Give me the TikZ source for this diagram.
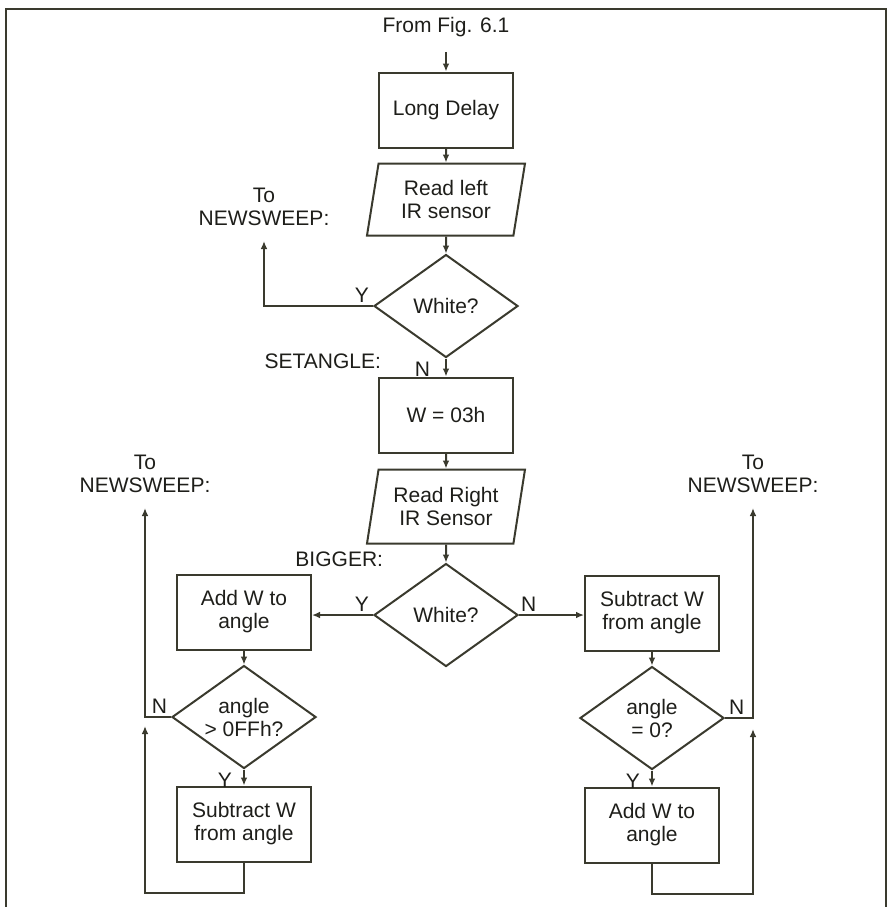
\documentclass[tikz,border=0pt]{standalone}
\usepackage{fontspec}
\setmainfont{Liberation Sans}
\usetikzlibrary{arrows.meta,positioning,shapes.geometric,calc}
\definecolor{inkDark}{HTML}{1E1E1A}
\definecolor{lineOlive}{HTML}{3A3A2E}

\begin{document}
\begin{tikzpicture}[
  x=0.5pt, y=-0.5pt,
  font=\fontsize{10.5}{11.5}\selectfont,
  >={Latex[length=4pt,width=3.4pt]},
  line width=1pt,
  every node/.style={inner sep=2pt, text=inkDark},
  % --- Reusable styles -------------------------------------------------------
  procbox/.style={               % plain process box
    rectangle, draw=lineOlive,
    minimum width=67pt, minimum height=37.5pt, align=center,
  },
  inout/.style={                 % slanted input box
    trapezium, trapezium left angle=76, trapezium right angle=104,
    trapezium stretches body, draw=lineOlive,
    minimum width=79pt, minimum height=36pt, align=center,
  },
  decision/.style={              % branching diamond
    diamond, aspect=1.43, draw=lineOlive,
    minimum width=72pt, minimum height=51.5pt, align=center, inner sep=0pt,
  },
  flow/.style={->, draw=lineOlive},
  wire/.style={draw=lineOlive},
  yn/.style={inner sep=1.5pt},
  tag/.style={inner sep=1pt},
  exitlbl/.style={align=center, inner xsep=2pt, inner ysep=7pt},
]
\useasboundingbox (0,0) rectangle (895,907);

% --- Frame -------------------------------------------------------------------
\draw[wire] (6,907) -- (6,9) -- (886,9) -- (886,907);

% --- Main column -------------------------------------------------------------
\node[exitlbl]                          (from)   at (446,27) {From Fig. 6.1};
\node[procbox]                          (delay)  at (446,110) {Long Delay};
\node[inout,    below=7pt of delay]     (readL)  {Read left\\IR sensor};
\node[decision, below=8.5pt of readL]   (whiteL) {White?};
\node[procbox,  below=9pt of whiteL]    (setw)   {W = 03h};
\node[inout,    below=7.5pt of setw, minimum height=37pt] (readR) {Read Right\\IR Sensor};
\node[decision, below=9pt of readR]     (whiteR) {White?};

% --- Side branches -----------------------------------------------------------
\node[procbox,  left=30.5pt of whiteR, yshift=1.5pt]  (addL) {Add W to\\angle};
\node[decision, below=7pt of addL]      (cmpL)   {angle\\> 0FFh?};
\node[procbox,  below=8pt of cmpL]      (subL)   {Subtract W\\from angle};
\node[procbox,  right=32.5pt of whiteR, yshift=1pt] (subR) {Subtract W\\from angle};
\node[decision, below=7pt of subR]      (cmpR)   {angle\\= 0?};
\node[procbox,  below=8pt of cmpR]      (addR)   {Add W to\\angle};

% --- Entry labels ------------------------------------------------------------
\node[tag, anchor=south east] (setangle) at ([xshift=3pt,yshift=2.5pt]setw.north west) {SETANGLE:};
\node[tag, anchor=east]       (bigger)   at ([xshift=-30pt,yshift=1.5pt]whiteR.north) {BIGGER:};

% --- Exits to NEWSWEEP -------------------------------------------------------
\coordinate (busT) at ([xshift=-54.5pt]whiteL.west);
\coordinate (busL) at ([xshift=-13pt]cmpL.west);
\coordinate (busR) at ([xshift=14pt]cmpR.east);
\node[exitlbl, above=32.5pt of busT] (toL1) {To\\NEWSWEEP:};
\node[exitlbl, above=104.5pt of busL] (toL2) {To\\NEWSWEEP:};
\node[exitlbl, above=105pt of busR]  (toR2) {To\\NEWSWEEP:};

% --- Arrows ------------------------------------------------------------------
\draw[flow] (from) -- (delay);
\draw[flow] (delay) -- (readL);
\draw[flow] (readL) -- (whiteL);
\draw[flow] (whiteL.south) node[yn, anchor=north east, xshift=-6pt]{N} -- (setw);
\draw[flow] (setw) -- (readR);
\draw[flow] (readR) -- (whiteR);
\draw[flow] (whiteR.west) node[yn, anchor=south east]{Y} -- (whiteR.west -| addL.east);
\draw[flow] (whiteR.east) node[yn, anchor=south west, xshift=-1pt]{N} -- (whiteR.east -| subR.west);
\draw[flow] (addL) -- (cmpL);
\draw[flow] (cmpL.south) node[yn, anchor=north east, xshift=-4pt]{Y} -- (subL);
\draw[flow] (subR) -- (cmpR);
\draw[flow] (cmpR.south) node[yn, anchor=north east, xshift=-4pt]{Y} -- (addR);

\draw[flow] (whiteL.west) node[yn, anchor=south east]{Y} -- (busT) -- (toL1.south);
\draw[flow] (cmpL.west) node[yn, anchor=south east]{N} -- (busL) -- (toL2.south);
\draw[flow] (cmpR.east) node[yn, anchor=south west]{N} -- (busR) -- (toR2.south);

% --- Loops back up to the exits ----------------------------------------------
\draw[flow] (subL.south) -- ++(0,30) -| ([yshift=-4.5pt]busL);
\draw[flow] (addR.south) -- ++(0,30) -| ([yshift=-5.5pt]busR);

\end{tikzpicture}
\end{document}
